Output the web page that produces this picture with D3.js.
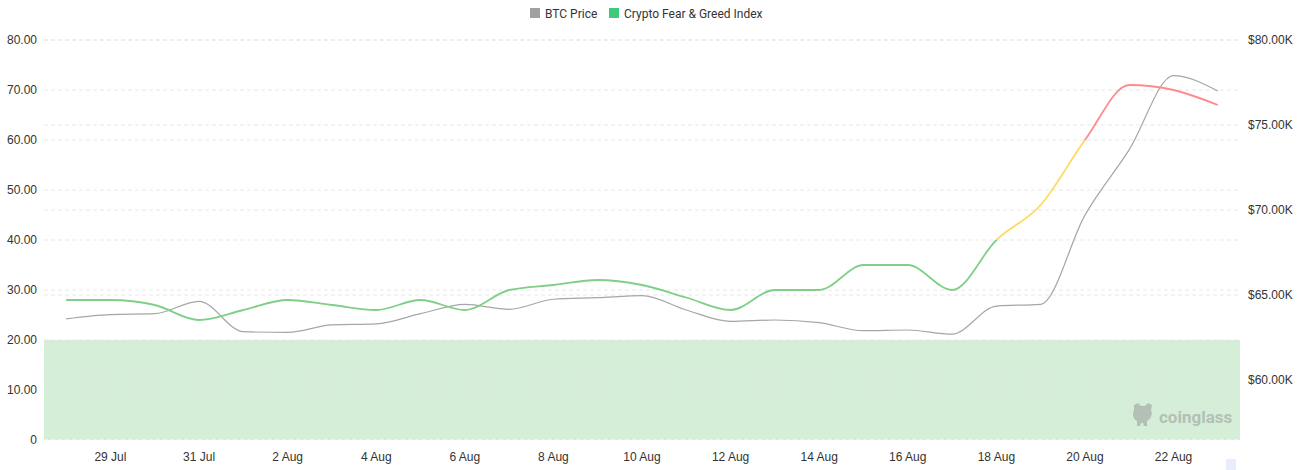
<!DOCTYPE html>
<html>
<head>
<meta charset="utf-8">
<script src="https://cdn.jsdelivr.net/npm/d3@7/dist/d3.min.js"></script>
<style>
  html, body { margin: 0; padding: 0; background: #fff; }
  svg { display: block; font-family: Roboto, "Noto Sans", sans-serif; }
</style>
</head>
<body>
<svg id="chart" width="1306" height="470"></svg>
<script>
// ---- Data ----
const dates = ["28 Jul","29 Jul","30 Jul","31 Jul","1 Aug","2 Aug","3 Aug","4 Aug","5 Aug","6 Aug",
  "7 Aug","8 Aug","9 Aug","10 Aug","11 Aug","12 Aug","13 Aug","14 Aug","15 Aug","16 Aug",
  "17 Aug","18 Aug","19 Aug","20 Aug","21 Aug","22 Aug","23 Aug"];
const fearGreed = [28,28,27,24,26,28,27,26,28,26,30,31,32,31,28.5,26,30,30,35,35,30,40,47,60,71,70,67];
const btcPrice = [63600,63850,63900,64630,62840,62800,63240,63300,63900,64450,64160,64750,64840,64960,
  64120,63450,63530,63370,62900,62940,62700,64350,64450,69700,73550,77900,77000];
const leftTicks = [0,10,20,30,40,50,60,70,80];
const rightTicks = [60000,65000,70000,75000,80000];
const legendItems = ["BTC Price","Crypto Fear & Greed Index"];

// ---- Layout ----
const svg = d3.select("#chart");
const plot = {left: 44, right: 1240, top: 40, bottom: 440};

const x = d3.scaleBand().domain(dates).range([plot.left, plot.right]);
const xc = d => x(d) + x.bandwidth() / 2;
const yL = d3.scaleLinear().domain([0, 80]).range([plot.bottom, plot.top]);
const yR = d3.scaleLinear().domain([60000, 80000]).range([380, plot.top]);

// Fear band (0-20)
svg.append("rect")
  .attr("x", plot.left).attr("y", yL(20))
  .attr("width", plot.right - plot.left).attr("height", yL(0) - yL(20))
  .attr("fill", "#d4eed8");

// Grid lines
const grid = svg.append("g");
grid.selectAll("line.l").data(leftTicks).join("line")
  .attr("x1", plot.left).attr("x2", plot.right)
  .attr("y1", d => yL(d)).attr("y2", d => yL(d))
  .attr("stroke", d => d === 0 ? "#ffffff" : "#e8e8e8")
  .attr("stroke-dasharray", "4,3").attr("stroke-width", 1);
grid.selectAll("line.r").data(rightTicks).join("line")
  .attr("x1", plot.left).attr("x2", plot.right)
  .attr("y1", d => yR(d)).attr("y2", d => yR(d))
  .attr("stroke", "#e8e8e8")
  .attr("stroke-dasharray", "4,3").attr("stroke-width", 1);

// Axes
const leftAxis = d3.axisLeft(yL).tickValues(leftTicks)
  .tickFormat(d => d === 0 ? "0" : d3.format(".2f")(d)).tickSize(0).tickPadding(7);
svg.append("g").attr("transform", `translate(${plot.left},0)`).call(leftAxis)
  .call(g => g.select(".domain").remove())
  .selectAll("text").attr("font-size", 12).attr("fill", "#333");

const rightAxis = d3.axisRight(yR).tickValues(rightTicks)
  .tickFormat(d => "$" + d3.format(".2f")(d / 1000) + "K").tickSize(0).tickPadding(8);
svg.append("g").attr("transform", `translate(${plot.right},0)`).call(rightAxis)
  .call(g => g.select(".domain").remove())
  .selectAll("text").attr("font-size", 12).attr("fill", "#333");

const xAxis = d3.axisBottom(x).tickValues(dates.filter((d, i) => i % 2 === 1))
  .tickSize(0).tickPadding(12);
svg.append("g").attr("transform", `translate(0,${plot.bottom})`).call(xAxis)
  .call(g => g.select(".domain").remove())
  .selectAll("text").attr("font-size", 12).attr("fill", "#333");

// Watermark
const wm = svg.append("g").attr("opacity", 0.55).attr("fill", "#9a9a9a");
wm.append("path")
  .attr("d", "M1134,405 L1138,403 L1141,406 L1145,406 L1148,403 L1152,405 L1151,410 C1153,414 1151,419 1147,421 L1147,426 L1144,426 L1143,423 L1141,423 L1140,426 L1137,426 L1137,421 C1133,419 1132,414 1134,410 Z");
wm.append("text").attr("x", 1159).attr("y", 423)
  .attr("font-size", 17).attr("font-weight", "bold").text("coinglass");

// BTC line
const lineR = d3.line().x((d, i) => xc(dates[i])).y(d => yR(d)).curve(d3.curveMonotoneX);
svg.append("path").datum(btcPrice).attr("d", lineR)
  .attr("fill", "none").attr("stroke", "#a6a6a6").attr("stroke-width", 1.2);

// Fear & Greed line, coloured by value band
const lineL = d3.line().x((d, i) => xc(dates[i])).y(d => yL(d)).curve(d3.curveMonotoneX);
const bands = [
  {id: "cg", lo: 0, hi: 40, color: "#7fcf88"},
  {id: "cy", lo: 40, hi: 60, color: "#ffd95c"},
  {id: "cr", lo: 60, hi: 100, color: "#ff8a90"}
];
const defs = svg.append("defs");
bands.forEach(b => {
  defs.append("clipPath").attr("id", b.id).append("rect")
    .attr("x", 0).attr("width", 1306)
    .attr("y", b.hi >= 100 ? 0 : yL(b.hi))
    .attr("height", (b.lo <= 0 ? 470 : yL(b.lo)) - (b.hi >= 100 ? 0 : yL(b.hi)));
  svg.append("path").datum(fearGreed).attr("d", lineL)
    .attr("clip-path", `url(#${b.id})`)
    .attr("fill", "none").attr("stroke", b.color).attr("stroke-width", 1.8);
});

// Legend
const legend = svg.append("g");
const legendColors = ["#a0a0a0", "#3ec97b"];
const lx = [530, 609];
legendItems.forEach((t, i) => {
  legend.append("rect").attr("x", lx[i]).attr("y", 8).attr("width", 10).attr("height", 10)
    .attr("fill", legendColors[i]);
  legend.append("text").attr("x", lx[i] + 15).attr("y", 17.5)
    .attr("font-size", 12).attr("fill", "#333").text(t);
});

// small zoom handle artefact
svg.append("rect").attr("x", 1226).attr("y", 459).attr("width", 10).attr("height", 11)
  .attr("fill", "#e9ecfb");
</script>
</body>
</html>
